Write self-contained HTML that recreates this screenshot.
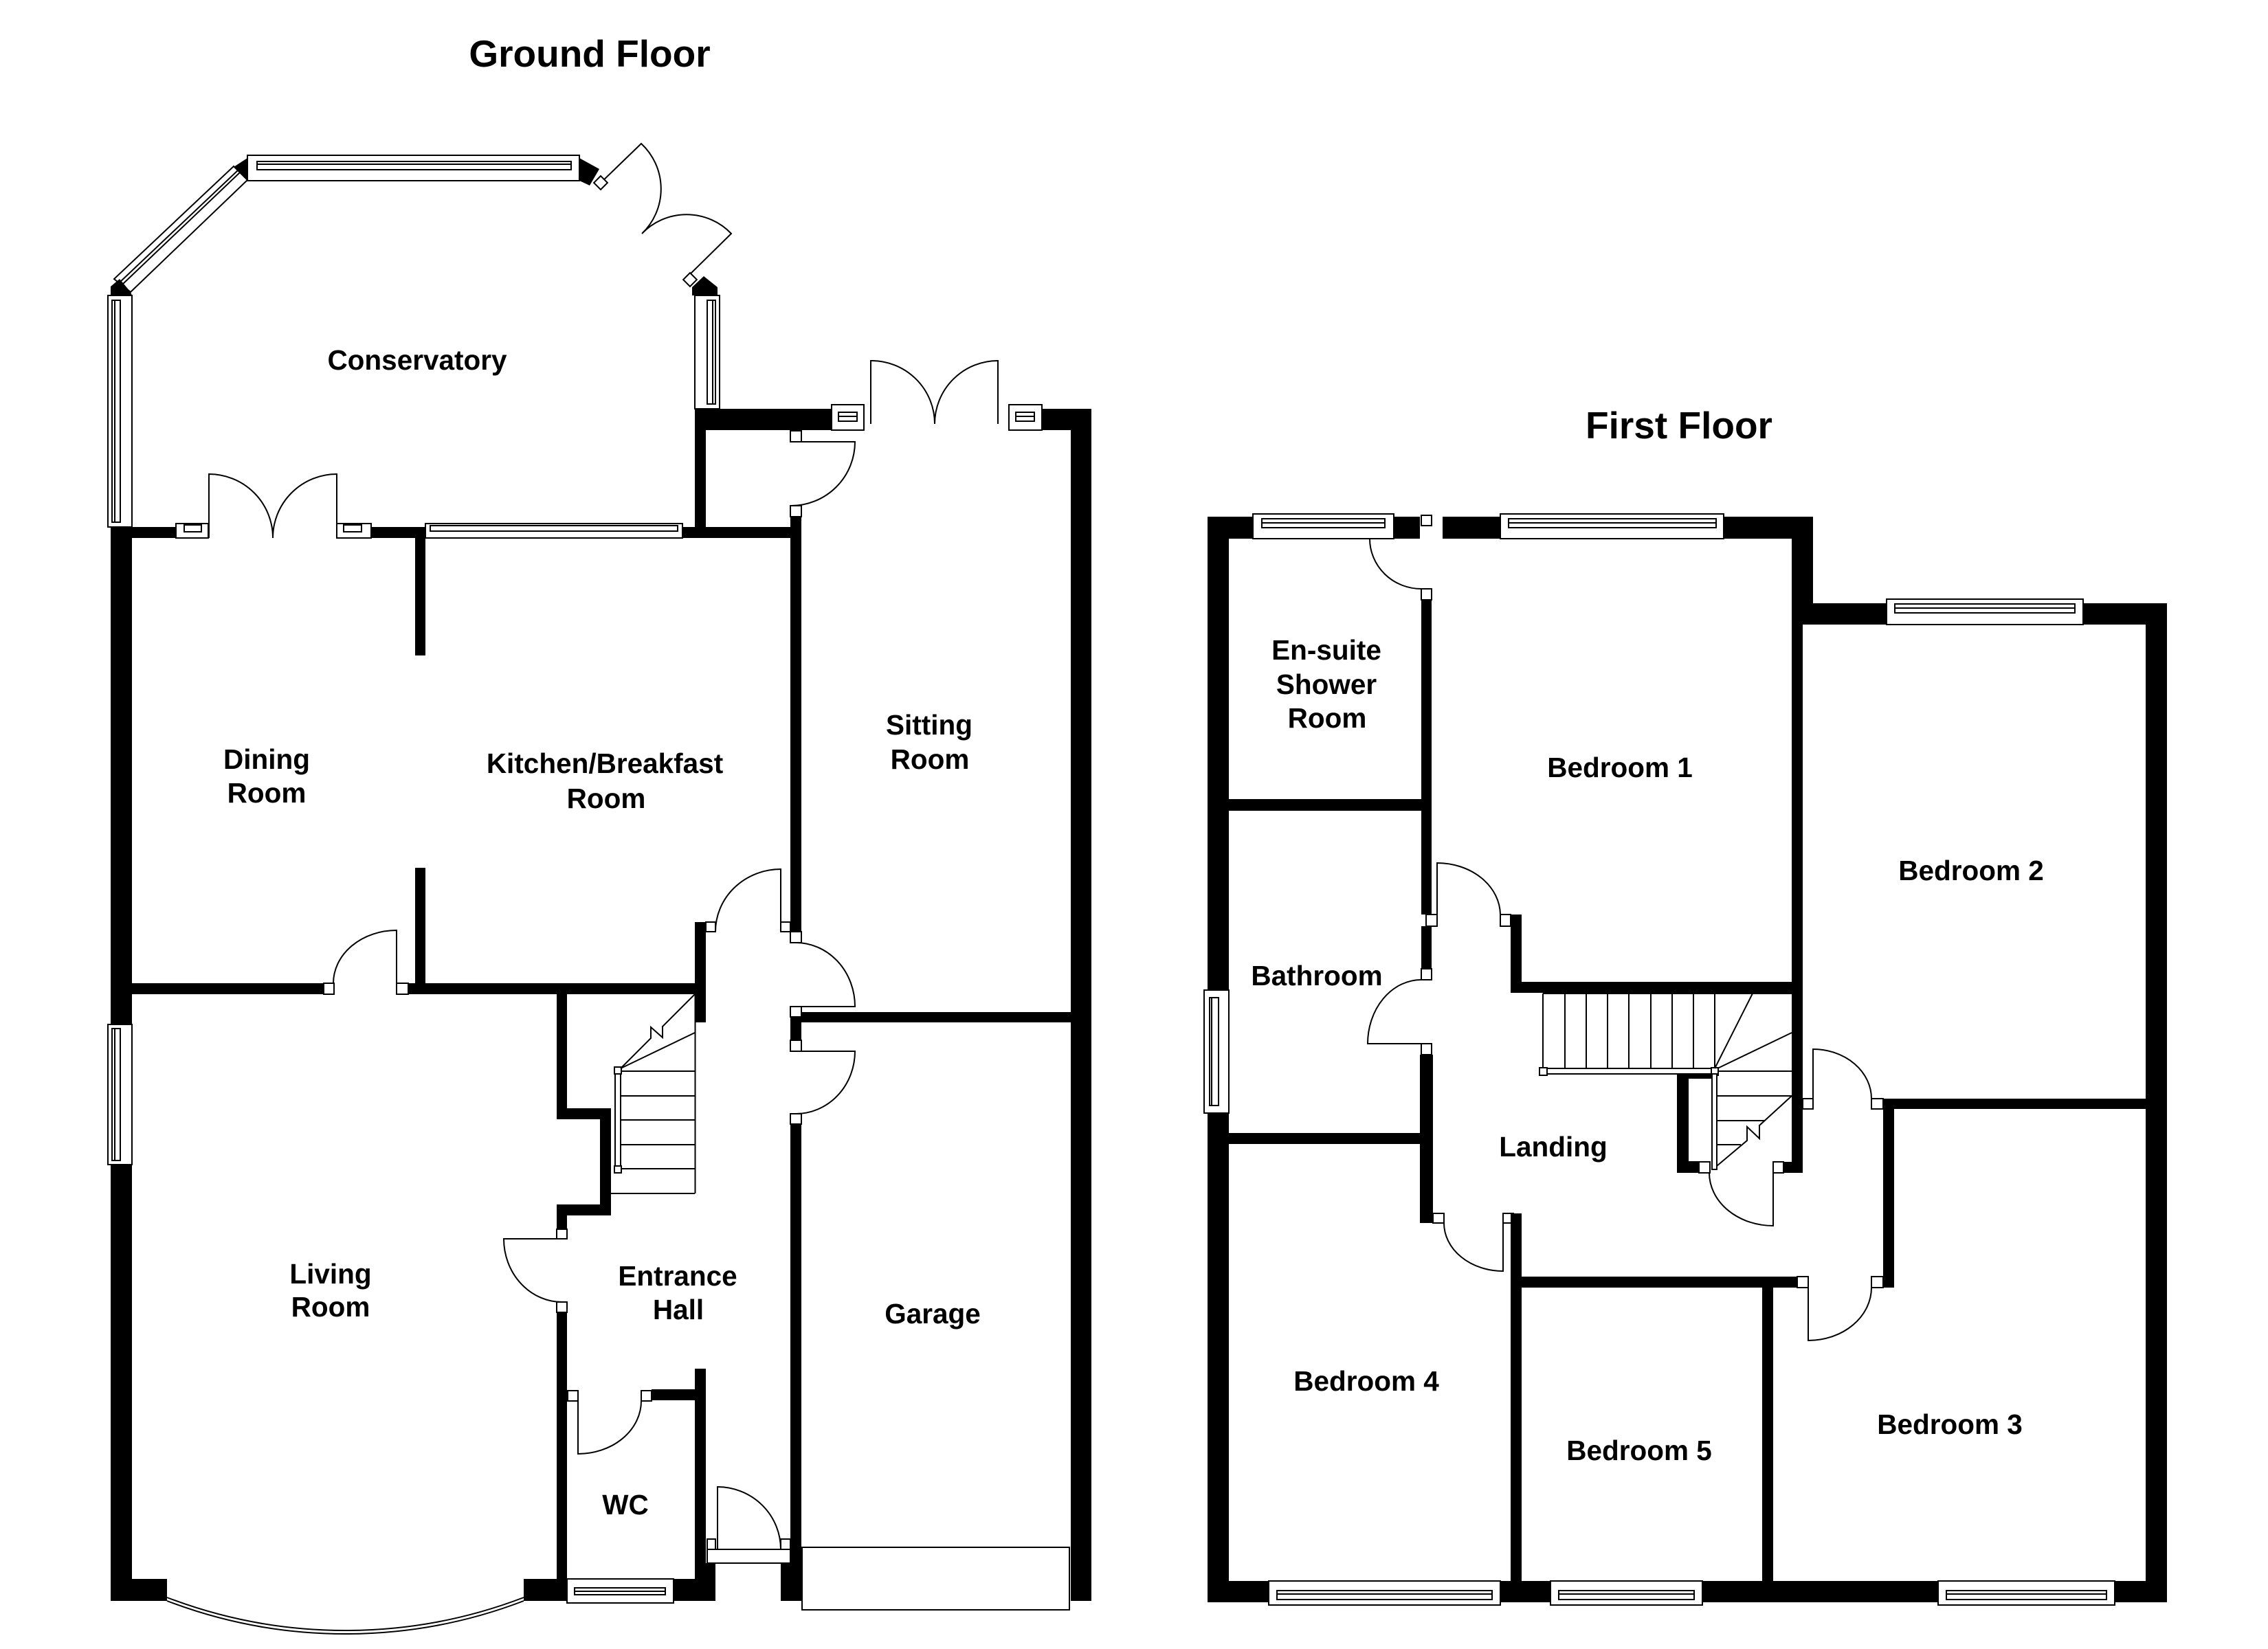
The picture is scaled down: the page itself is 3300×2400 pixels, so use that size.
<!DOCTYPE html>
<html><head><meta charset="utf-8"><style>
html,body{margin:0;padding:0;background:#fff}
svg{display:block}
.w{fill:#000}
.l{fill:none;stroke:#000;stroke-width:2}
.f{fill:#fff;stroke:#000;stroke-width:2}
text{font-family:"Liberation Sans",Arial,sans-serif;font-weight:bold;font-size:40.5px;text-anchor:middle;fill:#000}
.t{font-size:55px}
</style></head><body>
<svg width="3300" height="2400" viewBox="0 0 3300 2400" xmlns="http://www.w3.org/2000/svg">
<rect x="0" y="0" width="3300" height="2400" fill="#fff"/>

<!-- ================= GROUND FLOOR ================= -->
<text class="t" x="858" y="97">Ground Floor</text>

<!-- Conservatory glazing -->
<rect class="f" x="360" y="226" width="483" height="37"/>
<rect class="f" x="374" y="235" width="457" height="12"/>
<line class="l" x1="374" y1="239" x2="831" y2="239"/>
<polygon class="w" points="360,230 340,243 360,262"/>
<polygon class="w" points="843,230 872,246 858,270 843,263"/>
<polygon class="f" points="340,242 360,262 190,425 166,406"/>
<line class="l" x1="346" y1="248" x2="173" y2="412"/>
<line class="l" x1="349" y1="251" x2="177" y2="415"/>
<polygon class="w" points="174,406 161,417 161,430 192,430 190,425"/>
<rect class="f" x="157" y="430" width="35" height="337"/>
<rect class="f" x="163" y="437" width="12" height="323"/>
<line class="l" x1="167" y1="437" x2="167" y2="760"/>
<polygon class="w" points="1024,402 1044,418 1044,430 1007,430 1007,418"/>
<rect class="f" x="1011" y="430" width="36" height="165"/>
<rect class="f" x="1029" y="437" width="12" height="151"/>
<line class="l" x1="1037" y1="437" x2="1037" y2="588"/>
<!-- conservatory french doors -->
<path class="l" d="M872 268L933 209A90 90 0 0 1 934 340M1000 403L1064 340A90 90 0 0 0 934 340"/>
<rect class="f" x="-7" y="-7" width="14" height="14" transform="translate(874 266) rotate(45)"/>
<rect class="f" x="-7" y="-7" width="14" height="14" transform="translate(1004 407) rotate(45)"/>
<text x="607" y="538">Conservatory</text>

<!-- stub that sits under a wall -->
<rect class="f" x="2187" y="1766" width="15" height="14"/>

<!-- GF walls -->
<rect class="w" x="161" y="767" width="95" height="16"/>
<rect class="w" x="540" y="767" width="79" height="16"/>
<rect class="w" x="993" y="767" width="173" height="16"/>
<rect class="w" x="1011" y="595" width="16" height="188"/>
<rect class="w" x="1011" y="595" width="199" height="31"/>
<rect class="w" x="1516" y="595" width="72" height="31"/>
<rect class="w" x="1558" y="595" width="30" height="1735"/>
<rect class="w" x="1150" y="752" width="16" height="604"/>
<rect class="w" x="604" y="783" width="15" height="171"/>
<rect class="w" x="604" y="1263" width="15" height="184"/>
<rect class="w" x="192" y="1431" width="279" height="16"/>
<rect class="w" x="594" y="1431" width="433" height="16"/>
<rect class="w" x="1011" y="1342" width="16" height="146"/>
<rect class="w" x="1150" y="1480" width="16" height="34"/>
<rect class="w" x="1150" y="1636" width="16" height="694"/>
<rect class="w" x="1166" y="1473" width="422" height="15"/>
<rect class="w" x="810" y="1447" width="15" height="182"/>
<rect class="w" x="810" y="1613" width="79" height="16"/>
<rect class="w" x="873" y="1613" width="16" height="156"/>
<rect class="w" x="810" y="1753" width="79" height="16"/>
<rect class="w" x="810" y="1753" width="15" height="36"/>
<rect class="w" x="810" y="1910" width="15" height="420"/>
<rect class="w" x="948" y="2022" width="63" height="16"/>
<rect class="w" x="1011" y="1992" width="16" height="338"/>
<rect class="w" x="980" y="2298" width="61" height="32"/>
<rect class="w" x="1027" y="2275" width="14" height="55"/>
<rect class="w" x="1136" y="2275" width="30" height="55"/>
<rect class="w" x="161" y="767" width="31" height="724"/>
<rect class="w" x="161" y="1695" width="31" height="635"/>
<rect class="w" x="161" y="2298" width="82" height="32"/>
<rect class="w" x="762" y="2298" width="63" height="32"/>

<!-- GF frames / windows -->
<rect class="f" x="256" y="762" width="47" height="21"/>
<rect class="f" x="268" y="764" width="25" height="10"/>
<rect class="f" x="490" y="762" width="50" height="21"/>
<rect class="f" x="500" y="764" width="26" height="10"/>
<rect class="f" x="619" y="762" width="374" height="21"/>
<rect class="f" x="626" y="765" width="360" height="8"/>
<rect class="f" x="1210" y="589" width="47" height="37"/>
<rect class="f" x="1220" y="600" width="27" height="13"/>
<line class="l" x1="1220" y1="606" x2="1247" y2="606"/>
<rect class="f" x="1468" y="589" width="48" height="37"/>
<rect class="f" x="1478" y="600" width="27" height="13"/>
<line class="l" x1="1478" y1="606" x2="1505" y2="606"/>
<rect class="f" x="157" y="1491" width="35" height="204"/>
<rect class="f" x="163" y="1497" width="12" height="192"/>
<line class="l" x1="167" y1="1497" x2="167" y2="1689"/>
<rect class="f" x="825" y="2298" width="155" height="35"/>
<rect class="f" x="836" y="2311" width="132" height="10"/>
<line class="l" x1="836" y1="2316" x2="968" y2="2316"/>

<!-- GF stubs -->
<rect class="f" x="471" y="1431" width="15" height="16"/>
<rect class="f" x="577" y="1431" width="17" height="16"/>
<rect class="f" x="1027" y="1342" width="14" height="14"/>
<rect class="f" x="1136" y="1342" width="14" height="14"/>
<rect class="f" x="1150" y="1356" width="16" height="16"/>
<rect class="f" x="1150" y="1465" width="16" height="15"/>
<rect class="f" x="1150" y="1514" width="16" height="16"/>
<rect class="f" x="1150" y="1621" width="16" height="15"/>
<rect class="f" x="1150" y="627" width="16" height="16"/>
<rect class="f" x="1150" y="736" width="16" height="16"/>
<rect class="f" x="810" y="1789" width="15" height="14"/>
<rect class="f" x="810" y="1895" width="15" height="15"/>
<rect class="f" x="826" y="2024" width="15" height="15"/>
<rect class="f" x="933" y="2024" width="15" height="15"/>
<rect class="f" x="1029" y="2240" width="12" height="15"/>
<rect class="f" x="1136" y="2240" width="14" height="15"/>
<rect class="f" x="1029" y="2255" width="121" height="20"/>
<rect class="f" x="1167" y="2252" width="389" height="91"/>

<!-- GF doors -->
<path class="l" d="M304 783V690A93 93 0 0 1 397 783M490 783V690A93 93 0 0 0 397 783"/>
<path class="l" d="M1267 617V525A92 92 0 0 1 1360 617M1452 617V525A92 92 0 0 0 1360 617"/>
<path class="l" d="M1151 643H1244A93 93 0 0 1 1151 736"/>
<path class="l" d="M577 1431V1354A92 77 0 0 0 485 1431"/>
<path class="l" d="M1136 1356V1265A95 91 0 0 0 1041 1356"/>
<path class="l" d="M1158 1465H1244A86 93 0 0 0 1158 1372"/>
<path class="l" d="M1158 1530H1244A86 91 0 0 1 1158 1621"/>
<path class="l" d="M818 1803H733A85 92 0 0 0 818 1895"/>
<path class="l" d="M841 2039V2116A92 77 0 0 0 933 2039"/>
<path class="l" d="M1044 2255V2164A92 91 0 0 1 1136 2255"/>

<!-- bay -->
<path class="l" d="M243 2330A725 725 0 0 0 762 2330M243 2325A725 725 0 0 0 762 2325"/>

<!-- GF stairs -->
<path class="l" d="M1011.5 1447V1737M903 1559H1011M903 1595H1011M903 1630H1011M903 1666H1011M903 1701H1011M889 1737H1011"/>
<rect class="f" x="895" y="1558" width="8" height="144"/>
<rect class="f" x="894" y="1553" width="10" height="10"/>
<rect class="f" x="894" y="1697" width="10" height="10"/>
<path class="l" d="M903 1555L1011 1503M903 1555L947 1511V1495L964 1510V1494L1011 1447"/>

<!-- GF labels -->
<text x="388" y="1119">Dining</text><text x="388" y="1168">Room</text>
<text x="880" y="1125">Kitchen/Breakfast</text><text x="882" y="1176">Room</text>
<text x="1352" y="1069">Sitting</text><text x="1353" y="1119">Room</text>
<text x="481" y="1868">Living</text><text x="481" y="1916">Room</text>
<text x="986" y="1871">Entrance</text><text x="987" y="1920">Hall</text>
<text x="1357" y="1926">Garage</text>
<text x="910" y="2204">WC</text>

<!-- ================= FIRST FLOOR ================= -->
<text class="t" x="2443" y="638">First Floor</text>

<rect class="w" x="1757" y="752" width="66" height="32"/>
<rect class="w" x="2028" y="752" width="38" height="32"/>
<rect class="w" x="2099" y="752" width="84" height="32"/>
<rect class="w" x="2508" y="752" width="130" height="32"/>
<rect class="w" x="2607" y="752" width="31" height="157"/>
<rect class="w" x="2607" y="878" width="138" height="31"/>
<rect class="w" x="3031" y="878" width="122" height="31"/>
<rect class="w" x="3122" y="878" width="31" height="1454"/>
<rect class="w" x="2607" y="878" width="16" height="829"/>
<rect class="w" x="1757" y="752" width="31" height="689"/>
<rect class="w" x="1757" y="1620" width="31" height="712"/>
<rect class="w" x="1757" y="2301" width="1396" height="31"/>
<rect class="w" x="1788" y="1163" width="280" height="17"/>
<rect class="w" x="2068" y="873" width="15" height="458"/>
<rect class="w" x="2068" y="1348" width="15" height="62"/>
<rect class="w" x="2066" y="1535" width="19" height="245"/>
<rect class="w" x="2198" y="1331" width="16" height="114"/>
<rect class="w" x="2198" y="1429" width="425" height="16"/>
<rect class="w" x="1788" y="1649" width="295" height="16"/>
<rect class="w" x="2198" y="1766" width="16" height="566"/>
<rect class="w" x="2198" y="1858" width="417" height="16"/>
<rect class="w" x="2740" y="1599" width="16" height="275"/>
<rect class="w" x="2740" y="1599" width="382" height="15"/>
<rect class="w" x="2564" y="1874" width="16" height="427"/>
<rect class="w" x="2440" y="1563" width="17" height="144"/>
<rect class="w" x="2440" y="1691" width="32" height="16"/>
<rect class="w" x="2440" y="1563" width="51" height="6"/>
<rect class="w" x="2595" y="1691" width="28" height="16"/>

<!-- FF windows -->
<rect class="f" x="1823" y="748" width="205" height="36"/>
<rect class="f" x="1836" y="755" width="179" height="13"/>
<line class="l" x1="1836" y1="761" x2="2015" y2="761"/>
<rect class="f" x="2183" y="748" width="325" height="36"/>
<rect class="f" x="2195" y="755" width="302" height="13"/>
<line class="l" x1="2195" y1="761" x2="2497" y2="761"/>
<rect class="f" x="2745" y="872" width="286" height="37"/>
<rect class="f" x="2757" y="879" width="262" height="13"/>
<line class="l" x1="2757" y1="885" x2="3019" y2="885"/>
<rect class="f" x="1752" y="1441" width="36" height="179"/>
<rect class="f" x="1760" y="1452" width="13" height="157"/>
<line class="l" x1="1763" y1="1452" x2="1763" y2="1609"/>
<rect class="f" x="1846" y="2301" width="337" height="35"/>
<rect class="f" x="1858" y="2315" width="313" height="13"/>
<line class="l" x1="1858" y1="2320" x2="2171" y2="2320"/>
<rect class="f" x="2256" y="2301" width="221" height="35"/>
<rect class="f" x="2268" y="2315" width="197" height="13"/>
<line class="l" x1="2268" y1="2320" x2="2465" y2="2320"/>
<rect class="f" x="2820" y="2301" width="257" height="35"/>
<rect class="f" x="2832" y="2315" width="233" height="13"/>
<line class="l" x1="2832" y1="2320" x2="3065" y2="2320"/>

<!-- FF stubs -->
<rect class="f" x="2068" y="750" width="15" height="15"/>
<rect class="f" x="2068" y="857" width="15" height="16"/>
<rect class="f" x="2075" y="1331" width="16" height="17"/>
<rect class="f" x="2183" y="1331" width="15" height="17"/>
<rect class="f" x="2068" y="1410" width="15" height="16"/>
<rect class="f" x="2068" y="1519" width="15" height="16"/>
<rect class="f" x="2085" y="1766" width="16" height="14"/>
<rect class="f" x="2615" y="1858" width="16" height="16"/>
<rect class="f" x="2723" y="1858" width="17" height="16"/>
<rect class="f" x="2623" y="1599" width="15" height="15"/>
<rect class="f" x="2723" y="1599" width="17" height="15"/>
<rect class="f" x="2472" y="1691" width="16" height="16"/>
<rect class="f" x="2580" y="1691" width="15" height="16"/>

<!-- FF doors -->
<path class="l" d="M1993 784A75 73 0 0 0 2068 857"/>
<path class="l" d="M2091 1331V1256A92 76 0 0 1 2183 1331"/>
<path class="l" d="M2068 1519H1990A78 93 0 0 1 2068 1426"/>
<path class="l" d="M2187 1780V1850A86 70 0 0 1 2101 1780"/>
<path class="l" d="M2631 1874V1951A92 77 0 0 0 2723 1874"/>
<path class="l" d="M2638 1599V1527A85 72 0 0 1 2723 1599"/>
<path class="l" d="M2580 1707V1784A93 77 0 0 1 2487 1707"/>

<!-- FF stairs -->
<path class="l" d="M2245 1446H2607M2245 1446V1555M2277 1446V1555M2308 1446V1555M2339 1446V1555M2370 1446V1555M2402 1446V1555M2433 1446V1555M2464 1446V1555M2495 1446V1555"/>
<rect class="f" x="2249" y="1555" width="242" height="8"/>
<rect class="f" x="2240" y="1554" width="11" height="11"/>
<rect class="f" x="2490" y="1554" width="10" height="11"/>
<rect class="f" x="2491" y="1563" width="7" height="139"/>
<path class="l" d="M2457 1569H2491M2457 1691H2472"/>
<path class="l" d="M2495 1555L2550 1446M2499 1555L2607 1503M2499 1559H2607M2498 1595H2607M2498 1631H2568M2498 1666H2533M2498 1697L2542 1660V1640L2560 1657V1638L2607 1595"/>

<!-- FF labels -->
<text x="1930" y="960">En-suite</text><text x="1930" y="1010">Shower</text><text x="1931" y="1059">Room</text>
<text x="2357" y="1131">Bedroom 1</text>
<text x="2868" y="1281">Bedroom 2</text>
<text x="1916" y="1434">Bathroom</text>
<text x="2260" y="1683">Landing</text>
<text x="1988" y="2024">Bedroom 4</text>
<text x="2385" y="2125">Bedroom 5</text>
<text x="2837" y="2087">Bedroom 3</text>
</svg>
</body></html>
